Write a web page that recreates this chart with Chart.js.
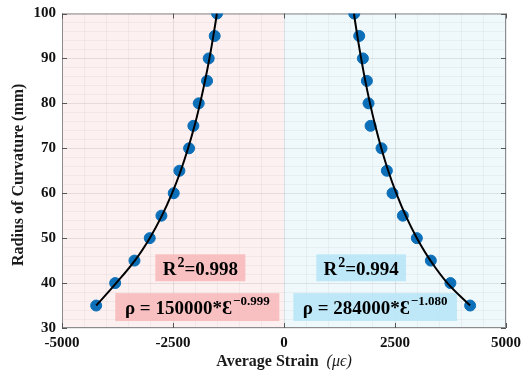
<!DOCTYPE html>
<html>
<head>
<meta charset="utf-8">
<script src="https://cdn.jsdelivr.net/npm/chart.js@4.4.1/dist/chart.umd.min.js"></script>
<style>
  html, body { margin: 0; padding: 0; background: #fff; }
  #wrap { width: 532px; height: 379px; }
</style>
</head>
<body>
<div id="wrap"><canvas id="chart"></canvas></div>
<script>
// 曲率半徑 (mm)
const radiusLevels = [100, 95, 90, 85, 80, 75, 70, 65, 60, 55, 50, 45, 40, 35];
// 量測點 (με)
const leftStrain = [-1508, -1561, -1696, -1733, -1921, -2041, -2138, -2356, -2484, -2761, -3024, -3368, -3803, -4230];
const rightStrain = [1582, 1694, 1777, 1867, 1904, 1949, 2196, 2317, 2444, 2677, 2992, 3307, 3748, 4192];
// 擬合曲線 (讀自圖中黑線)
const leftFitStrain = [-1511, -1591, -1679, -1779, -1890, -2015, -2160, -2326, -2520, -2749, -3024, -3360, -3780, -4230];
const rightFitStrain = [1575, 1652, 1737, 1831, 1937, 2056, 2192, 2347, 2528, 2740, 2994, 3300, 3681, 4192];
// 刻度
const xTickLabels = [-5000, -2500, 0, 2500, 5000];
const yTickLabels = [30, 40, 50, 60, 70, 80, 90, 100];

const serif = '"Liberation Serif", "Times New Roman", serif';
const toXY = (xs) => xs.map((x, i) => ({ x: x, y: radiusLevels[i] }));

// 背景、註解框、軸標題
const decorPlugin = {
    id: 'decor',
    beforeDraw(chart) {
        const { ctx, chartArea: a, scales: { x } } = chart;
        const x0 = x.getPixelForValue(0);
        ctx.save();
        ctx.fillStyle = '#fdf0f0';
        ctx.fillRect(a.left, a.top, x0 - a.left, a.bottom - a.top);
        ctx.fillStyle = '#eff9fc';
        ctx.fillRect(x0, a.top, a.right - x0, a.bottom - a.top);
        ctx.restore();
    },
    beforeDatasetsDraw(chart) {
        const { ctx, chartArea: a, scales: { x, y } } = chart;
        ctx.save();
        // 內向刻度與外框
        ctx.strokeStyle = '#8c8c8c';
        ctx.lineWidth = 1;
        ctx.strokeRect(a.left + 0.5, a.top + 0.5, a.right - a.left - 1, a.bottom - a.top - 1);
        ctx.strokeStyle = '#555';
        xTickLabels.forEach(v => {
            const px = Math.round(x.getPixelForValue(v)) + 0.5;
            ctx.beginPath();
            ctx.moveTo(px, a.bottom); ctx.lineTo(px, a.bottom - 5);
            ctx.moveTo(px, a.top); ctx.lineTo(px, a.top + 5);
            ctx.stroke();
        });
        yTickLabels.forEach(v => {
            const py = Math.round(y.getPixelForValue(v)) + 0.5;
            ctx.beginPath();
            ctx.moveTo(a.left, py); ctx.lineTo(a.left + 5, py);
            ctx.moveTo(a.right, py); ctx.lineTo(a.right - 5, py);
            ctx.stroke();
        });

        const box = (x1, x2, y1, y2, color) => {
            const l = x.getPixelForValue(x1), r = x.getPixelForValue(x2);
            const t = y.getPixelForValue(y1), b = y.getPixelForValue(y2);
            ctx.fillStyle = color;
            ctx.fillRect(l, t, r - l, b - t);
            return { cx: (l + r) / 2, cy: (t + b) / 2 };
        };
        // 主字 + 上標 + 主字
        const supText = (c, pre, sup, post, big, small, rise) => {
            ctx.fillStyle = '#000';
            ctx.textBaseline = 'alphabetic';
            ctx.textAlign = 'left';
            ctx.font = 'bold ' + big + 'px ' + serif;
            const w1 = ctx.measureText(pre).width;
            const w3 = ctx.measureText(post).width;
            ctx.font = 'bold ' + small + 'px ' + serif;
            const w2 = ctx.measureText(sup).width;
            const sx = c.cx - (w1 + w2 + w3 + 1) / 2;
            const base = c.cy + 7;
            ctx.font = 'bold ' + big + 'px ' + serif;
            ctx.fillText(pre, sx, base);
            ctx.fillText(post, sx + w1 + w2 + 1, base);
            ctx.font = 'bold ' + small + 'px ' + serif;
            ctx.fillText(sup, sx + w1 + 1, base - rise);
        };
        const pink = 'rgba(248, 186, 188, 0.9)';
        const blue = 'rgba(184, 229, 247, 0.9)';
        supText(box(-2898, -871, 46.4, 40.4, pink), 'R', '2', '=0.998', 19, 14, 8);
        supText(box(-3800, -106, 37.75, 31.55, pink), '\u03C1 = 150000*\u0190', '\u22120.999', '', 19, 13, 9);
        supText(box(727, 2747, 46.4, 40.4, blue), 'R', '2', '=0.994', 19, 14, 8);
        supText(box(210, 3896, 37.75, 31.55, blue), '\u03C1 = 284000*\u0190', '\u22121.080', '', 19, 13, 9);
        ctx.restore();
    },
    afterDraw(chart) {
        const { ctx, chartArea: a } = chart;
        ctx.save();
        ctx.fillStyle = '#1a1a1a';
        // y 軸標題
        ctx.translate(19, (a.top + a.bottom) / 2 + 4);
        ctx.rotate(-Math.PI / 2);
        ctx.textAlign = 'center';
        ctx.textBaseline = 'middle';
        ctx.font = 'bold 16px ' + serif;
        ctx.fillText('Radius of Curvature (mm)', 0, 0);
        ctx.setTransform(1, 0, 0, 1, 0, 0);
        // x 軸標題
        const main = 'Average Strain  ';
        const unit = '(\u03BC\u03F5)';
        ctx.font = 'bold 16px ' + serif;
        const w1 = ctx.measureText(main).width;
        ctx.font = 'italic 16px ' + serif;
        const w2 = ctx.measureText(unit).width;
        const sx = (a.left + a.right) / 2 - (w1 + w2) / 2;
        ctx.textAlign = 'left';
        ctx.textBaseline = 'alphabetic';
        ctx.font = 'bold 16px ' + serif;
        ctx.fillText(main, sx, 366);
        ctx.font = 'italic 16px ' + serif;
        ctx.fillText(unit, sx + w1, 366);
        ctx.restore();
    }
};

new Chart(document.getElementById('chart'), {
    type: 'scatter',
    data: {
        datasets: [
            { label: 'left fit', data: toXY(leftFitStrain), showLine: true, borderColor: '#000', borderWidth: 2, pointRadius: 0, tension: 0.4, order: 0 },
            { label: 'right fit', data: toXY(rightFitStrain), showLine: true, borderColor: '#000', borderWidth: 2, pointRadius: 0, tension: 0.4, order: 0 },
            { label: 'left', data: toXY(leftStrain), backgroundColor: '#0c6fb8', borderColor: '#0c6fb8', pointRadius: 5.5, order: 1 },
            { label: 'right', data: toXY(rightStrain), backgroundColor: '#0c6fb8', borderColor: '#0c6fb8', pointRadius: 5.5, order: 1 }
        ]
    },
    options: {
        responsive: true,
        maintainAspectRatio: false,
        animation: false,
        layout: { padding: { left: 0, right: 26, top: 12, bottom: 0 } },
        plugins: { legend: { display: false }, tooltip: { enabled: false } },
        scales: {
            x: {
                type: 'linear',
                min: -5000, max: 5000,
                afterFit: (s) => { s.height = 51; },
                border: { display: false },
                grid: {
                    drawTicks: false,
                    color: (c) => (c.tick && c.tick.value % 2500 === 0) ? 'rgba(0,0,0,0.09)' : 'rgba(0,0,0,0.04)'
                },
                ticks: {
                    stepSize: 500,
                    autoSkip: false,
                    maxRotation: 0,
                    padding: 8,
                    color: '#111',
                    font: { family: serif, size: 15, weight: 'bold', lineHeight: 1 },
                    callback: (v) => xTickLabels.includes(v) ? String(v) : ''
                }
            },
            y: {
                type: 'linear',
                min: 30, max: 100,
                afterFit: (s) => { s.width = 62; },
                border: { display: false },
                grid: {
                    drawTicks: false,
                    color: (c) => (c.tick && c.tick.value % 10 === 0) ? 'rgba(0,0,0,0.09)' : 'rgba(0,0,0,0.04)'
                },
                ticks: {
                    stepSize: 2,
                    autoSkip: false,
                    padding: 6,
                    color: '#111',
                    font: { family: serif, size: 15, weight: 'bold', lineHeight: 1 },
                    callback: (v) => yTickLabels.includes(v) ? String(v) : ''
                }
            }
        }
    },
    plugins: [decorPlugin]
});
</script>
</body>
</html>
